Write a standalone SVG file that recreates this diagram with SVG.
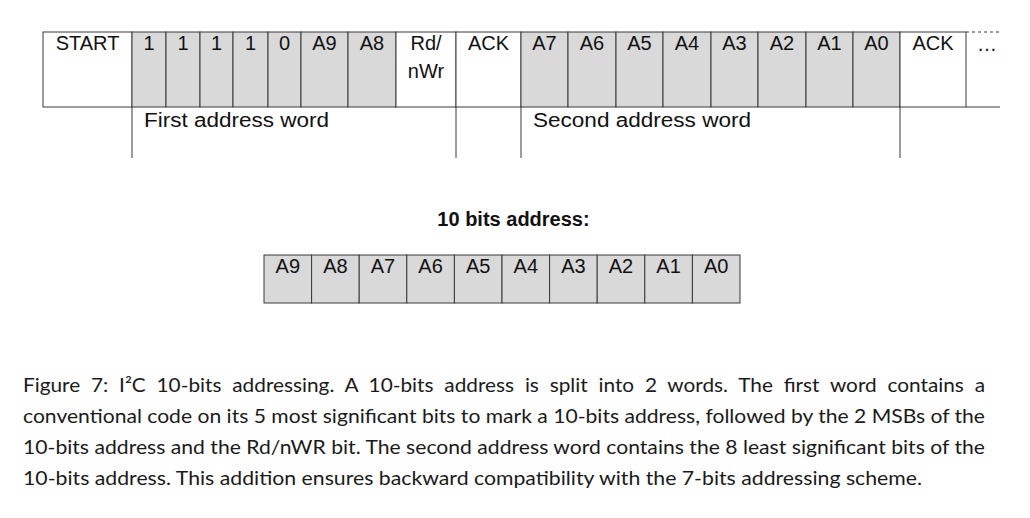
<svg xmlns="http://www.w3.org/2000/svg" width="1030" height="518" viewBox="0 0 1030 518">
<style>
.c{stroke:#3a3a3a;stroke-width:1}
.g{fill:#d9d9d9}
.w{fill:#ffffff}
.t{font-family:"Liberation Sans",Arial,sans-serif;font-size:20px;fill:#111;text-anchor:middle}
.b{font-family:"Liberation Sans",Arial,sans-serif;font-size:20px;font-weight:bold;fill:#111;text-anchor:middle}
.cap{font-family:Lato,"Open Sans",sans-serif;font-size:19px;fill:#1a1a1a}
.ln{stroke:#3a3a3a;stroke-width:1;fill:none}
</style>
<rect width="1030" height="518" fill="#ffffff"/>
<g id="frame">
<g id="start"><rect class="c w" x="43" y="32" width="89" height="75"/><text class="t" x="87.5" y="50">START</text></g>
<g id="b1"><rect class="c g" x="132" y="32" width="34" height="75"/><text class="t" x="149" y="50">1</text></g>
<g id="b2"><rect class="c g" x="166" y="32" width="34" height="75"/><text class="t" x="183" y="50">1</text></g>
<g id="b3"><rect class="c g" x="200" y="32" width="33" height="75"/><text class="t" x="216.5" y="50">1</text></g>
<g id="b4"><rect class="c g" x="233" y="32" width="35" height="75"/><text class="t" x="250.5" y="50">1</text></g>
<g id="b5"><rect class="c g" x="268" y="32" width="33" height="75"/><text class="t" x="284.5" y="50">0</text></g>
<g id="f-a9"><rect class="c g" x="301" y="32" width="47" height="75"/><text class="t" x="324.5" y="50">A9</text></g>
<g id="f-a8"><rect class="c g" x="348" y="32" width="48" height="75"/><text class="t" x="372" y="50">A8</text></g>
<g id="rdnwr"><rect class="c w" x="396" y="32" width="60" height="75"/><text class="t" x="426" y="50">Rd/</text><text class="t" x="426" y="78">nWr</text></g>
<g id="ack1"><rect class="c w" x="456" y="32" width="65" height="75"/><text class="t" x="488.5" y="50">ACK</text></g>
<g id="s-a7"><rect class="c g" x="521" y="32" width="47" height="75"/><text class="t" x="544.5" y="50">A7</text></g>
<g id="s-a6"><rect class="c g" x="568" y="32" width="48" height="75"/><text class="t" x="592" y="50">A6</text></g>
<g id="s-a5"><rect class="c g" x="616" y="32" width="47" height="75"/><text class="t" x="639.5" y="50">A5</text></g>
<g id="s-a4"><rect class="c g" x="663" y="32" width="48" height="75"/><text class="t" x="687" y="50">A4</text></g>
<g id="s-a3"><rect class="c g" x="711" y="32" width="47" height="75"/><text class="t" x="734.5" y="50">A3</text></g>
<g id="s-a2"><rect class="c g" x="758" y="32" width="48" height="75"/><text class="t" x="782" y="50">A2</text></g>
<g id="s-a1"><rect class="c g" x="806" y="32" width="47" height="75"/><text class="t" x="829.5" y="50">A1</text></g>
<g id="s-a0"><rect class="c g" x="853" y="32" width="47" height="75"/><text class="t" x="876.5" y="50">A0</text></g>
<g id="ack2"><rect class="c w" x="900" y="32" width="66" height="75"/><text class="t" x="933" y="50">ACK</text></g>
<g id="more"><line class="ln" x1="966" y1="32" x2="1000" y2="32" stroke="#777" stroke-dasharray="3,3"/><line class="ln" x1="966" y1="107" x2="1000" y2="107"/><text class="t" x="987" y="51">…</text></g>
</g>
<g id="connectors">
<line class="ln" x1="132" y1="107" x2="132" y2="158"/>
<line class="ln" x1="456" y1="107" x2="456" y2="158"/>
<line class="ln" x1="521" y1="107" x2="521" y2="158"/>
<line class="ln" x1="900" y1="107" x2="900" y2="158"/>
</g>
<g id="first-word"><text class="t" style="text-anchor:start" x="144" y="127" textLength="185" lengthAdjust="spacingAndGlyphs">First address word</text></g>
<g id="second-word"><text class="t" style="text-anchor:start" x="533" y="127" textLength="218" lengthAdjust="spacingAndGlyphs">Second address word</text></g>
<g id="title"><text class="b" x="513.5" y="226">10 bits address:</text></g>
<g id="addr10">
<g id="x-a9"><rect class="c g" x="264" y="255" width="47.6" height="48"/><text class="t" x="287.8" y="273">A9</text></g>
<g id="x-a8"><rect class="c g" x="311.6" y="255" width="47.6" height="48"/><text class="t" x="335.4" y="273">A8</text></g>
<g id="x-a7"><rect class="c g" x="359.2" y="255" width="47.6" height="48"/><text class="t" x="383" y="273">A7</text></g>
<g id="x-a6"><rect class="c g" x="406.8" y="255" width="47.6" height="48"/><text class="t" x="430.6" y="273">A6</text></g>
<g id="x-a5"><rect class="c g" x="454.4" y="255" width="47.6" height="48"/><text class="t" x="478.2" y="273">A5</text></g>
<g id="x-a4"><rect class="c g" x="502" y="255" width="47.6" height="48"/><text class="t" x="525.8" y="273">A4</text></g>
<g id="x-a3"><rect class="c g" x="549.6" y="255" width="47.6" height="48"/><text class="t" x="573.4" y="273">A3</text></g>
<g id="x-a2"><rect class="c g" x="597.2" y="255" width="47.6" height="48"/><text class="t" x="621" y="273">A2</text></g>
<g id="x-a1"><rect class="c g" x="644.8" y="255" width="47.6" height="48"/><text class="t" x="668.6" y="273">A1</text></g>
<g id="x-a0"><rect class="c g" x="692.4" y="255" width="47.6" height="48"/><text class="t" x="716.2" y="273">A0</text></g>
</g>
<g id="caption">
<text class="cap" x="23" y="392" style="word-spacing:5px" textLength="962" lengthAdjust="spacingAndGlyphs">Figure 7: I²C 10-bits addressing. A 10-bits address is split into 2 words. The first word contains a</text>
<text class="cap" x="23" y="423" textLength="962" lengthAdjust="spacingAndGlyphs">conventional code on its 5 most significant bits to mark a 10-bits address, followed by the 2 MSBs of the</text>
<text class="cap" x="23" y="454" textLength="962" lengthAdjust="spacingAndGlyphs">10-bits address and the Rd/nWR bit. The second address word contains the 8 least significant bits of the</text>
<text class="cap" x="23" y="485" textLength="899" lengthAdjust="spacingAndGlyphs">10-bits address. This addition ensures backward compatibility with the 7-bits addressing scheme.</text>
</g>
</svg>
